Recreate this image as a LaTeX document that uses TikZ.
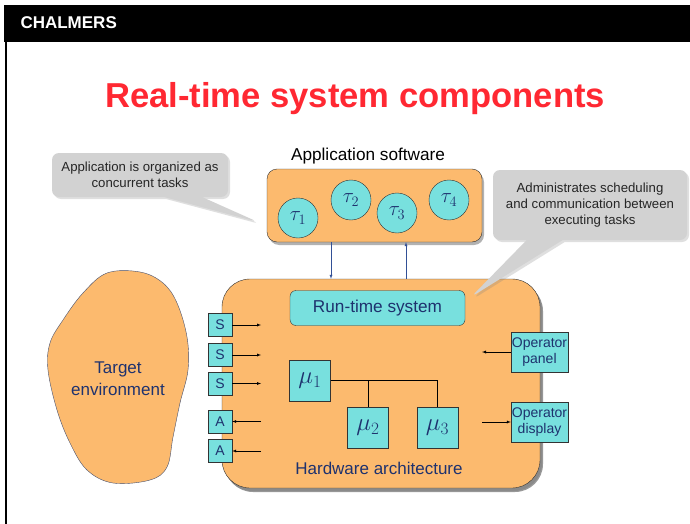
\documentclass[tikz,border=0pt]{standalone}
\usepackage{fontspec}
\setmainfont{Liberation Sans}
\usetikzlibrary{shapes.callouts,shadows}

\definecolor{hworange}{RGB}{252,186,110}
\definecolor{rtcyan}{RGB}{120,224,222}
\definecolor{notegray}{RGB}{210,210,210}
\definecolor{darkblue}{RGB}{30,50,110}
\definecolor{titlered}{RGB}{255,40,50}
\definecolor{arrblue}{RGB}{50,80,150}

\begin{document}
\begin{tikzpicture}[x=1pt,y=-1pt]
    \tikzstyle{orbox}=[draw=black!80, fill=hworange, rounded corners=10pt,
        drop shadow={opacity=0.6, shadow xshift=2pt, shadow yshift=-3pt}]
    \tikzstyle{cybox}=[draw=black!80, fill=rtcyan, text=darkblue, inner sep=0pt]
    \tikzstyle{task}=[cybox, circle, minimum size=40pt, font=\fontsize{21}{21}\selectfont]
    \tikzstyle{iobox}=[cybox, minimum width=24pt, minimum height=23pt, font=\fontsize{14}{14}\selectfont]
    \tikzstyle{mubox}=[cybox, minimum width=41pt, minimum height=41pt, font=\fontsize{23}{23}\selectfont]
    \tikzstyle{opbox}=[cybox, minimum width=57pt, minimum height=40pt, align=center,
        font=\fontsize{14}{16}\selectfont]
    \tikzstyle{note}=[rectangle callout, fill=notegray, rounded corners=7pt, align=center,
        text=black!85, font=\fontsize{13.2}{16.3}\selectfont,
        drop shadow={opacity=0.25, shadow xshift=2pt, shadow yshift=-2pt}]
    \tikzstyle{marrs}=[thin,-latex]
    \tikzstyle{barrs}=[arrblue, thin, -latex]

    \useasboundingbox (0,0) rectangle (690,524);
    \fill[white] (0,0) rectangle (690,524);

    % slide frame
    \fill[black] (4,5) rectangle (690,42);
    \draw[line width=2pt] (6,42) -- (6,524);
    \node[white, anchor=west, font=\fontsize{17}{17}\selectfont\bfseries] (brand) at (17,23) {CHALMERS};
    \node[titlered, font=\fontsize{34.6}{34.6}\selectfont\bfseries] (title) at (355,99) {Real-time system components};

    % target environment
    \draw[fill=hworange, draw={rgb,255:red,70;green,80;blue,110}] plot[smooth cycle, tension=0.6] coordinates {
        (83,293) (107,273) (140,272) (163,283) (177,303) (187,337) (188,370) (180,403)
        (173,437) (167,467) (150,480) (113,483) (87,470) (70,443) (57,410) (48,370)
        (50,343) (63,320)};
    \node[darkblue, align=center, font=\fontsize{17}{22}\selectfont] (env) at (118,379) {Target\\environment};

    % application software
    \node[orbox, minimum width=215pt, minimum height=73pt] (app) at (374.5,205.5) {};
    \node[font=\fontsize{17.2}{17.2}\selectfont] (applabel) at (368,156) {Application software};
    \foreach \n/\x/\y in {1/298/218, 2/351/200, 3/397/213, 4/449/200} {
        \node[task] (t\n) at (\x,\y) {$\tau_{\n}$};
    }

    % hardware architecture
    \node[orbox, rounded corners=28pt, minimum width=318pt, minimum height=209pt,
        drop shadow={opacity=0.8, shadow xshift=3pt, shadow yshift=-4pt}] (hw) at (381,383.5) {};
    \node[cybox, rounded corners=6pt, minimum width=175pt, minimum height=35pt,
        font=\fontsize{17.2}{17.2}\selectfont] (rts) at (377.5,308) {Run-time system};
    \node[darkblue, font=\fontsize{17}{17}\selectfont] (hwlabel) at (379,468) {Hardware architecture};

    \draw[barrs] ([xshift=-43.5]app.south) -- ([xshift=-43.5]app.south |- hw.north);
    \draw[barrs] ([xshift=31.5]app.south |- hw.north) -- ([xshift=31.5]app.south);

    % sensors and actuators
    \foreach \n/\y in {1/325, 2/355, 3/383.5} {
        \node[iobox] (s\n) at (220,\y) {S};
        \coordinate (s\n end) at (261,\y);
        \draw[marrs] (s\n.east) -- (s\n end);
    }
    \foreach \n/\y in {1/421.5, 2/451} {
        \node[iobox] (a\n) at (220,\y) {A};
        \coordinate (a\n start) at (261,\y);
        \draw[marrs] (a\n start) -- (a\n.east);
    }

    % processors
    \node[mubox] (mu1) at (310,380.5) {$\mu_1$};
    \node[mubox] (mu2) at (368,427.5) {$\mu_2$};
    \node[mubox] (mu3) at (437.5,427.5) {$\mu_3$};
    \draw (mu1.east) -- (mu1.east -| mu3.north) -- (mu3.north);
    \draw (mu1.east -| mu2.north) -- (mu2.north);

    % operator
    \node[opbox] (panel) at (539.5,352) {Operator\\panel};
    \node[opbox] (display) at (539.5,422) {Operator\\display};
    \coordinate (panel end) at (482,352);
    \coordinate (display start) at (482,422);
    \draw[marrs] (panel.west) -- (panel end);
    \draw[marrs] (display start) -- (display.west);

    % notes
    \node[note, minimum width=176pt, minimum height=44pt, callout pointer width=38pt,
        callout absolute pointer={(258,222)}] (tasknote) at (140,175)
        {Application is organized as\\concurrent tasks};
    \node[note, minimum width=194pt, minimum height=70pt, callout pointer width=36pt,
        callout absolute pointer={(471,297)}] (rtsnote) at (590,205)
        {Administrates scheduling\\and communication between\\executing tasks};
\end{tikzpicture}
\end{document}
